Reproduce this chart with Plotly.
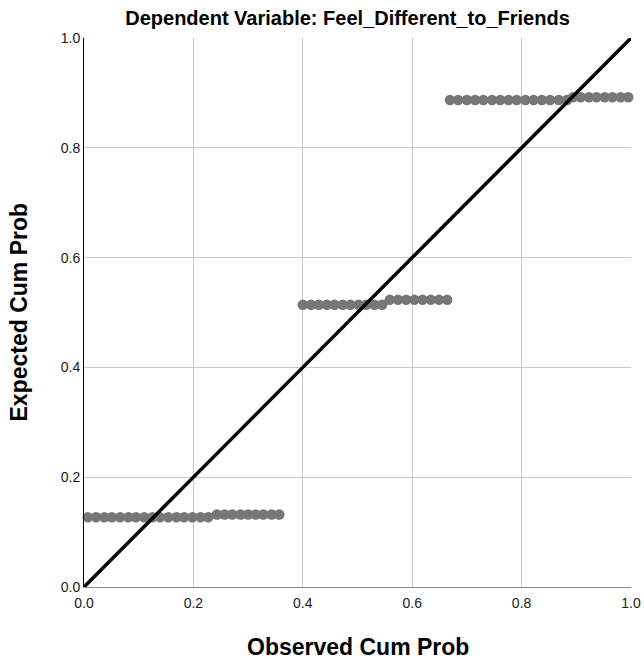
import plotly.graph_objects as go

# Observed cumulative probabilities (x) and expected cumulative probabilities (y)
obs_a = [0.007, 0.022, 0.037, 0.051, 0.066, 0.081, 0.095, 0.110, 0.125, 0.139, 0.154, 0.169, 0.183, 0.198, 0.213, 0.227]
exp_a = [0.127] * len(obs_a)
obs_b = [0.243, 0.257, 0.271, 0.286, 0.300, 0.314, 0.328, 0.343, 0.357]
exp_b = [0.132] * len(obs_b)
obs_c = [0.400, 0.415, 0.429, 0.444, 0.458, 0.473, 0.487, 0.502, 0.516, 0.531, 0.545]
exp_c = [0.514] * len(obs_c)
obs_d = [0.559, 0.574, 0.589, 0.604, 0.619, 0.634, 0.649, 0.664]
exp_d = [0.523] * len(obs_d)
obs_e = [0.669, 0.684, 0.700, 0.715, 0.730, 0.746, 0.761, 0.776, 0.791, 0.807, 0.822, 0.837, 0.852, 0.868, 0.883]
exp_e = [0.887] * len(obs_e)
obs_f = [0.894, 0.908, 0.923, 0.937, 0.952, 0.966, 0.981, 0.995]
exp_f = [0.892] * len(obs_f)

observed = obs_a + obs_b + obs_c + obs_d + obs_e + obs_f
expected = exp_a + exp_b + exp_c + exp_d + exp_e + exp_f

ref_x = [0.0, 1.0]
ref_y = [0.0, 1.0]
ticks = [0.0, 0.2, 0.4, 0.6, 0.8, 1.0]
tick_text = ["0.0", "0.2", "0.4", "0.6", "0.8", "1.0"]

W, H = 644, 659
L, R, T, B = 84, 13, 38, 72
plot_w = W - L - R
plot_h = H - T - B

fig = go.Figure()
fig.add_trace(go.Scatter(
    x=observed, y=expected, mode="markers",
    marker=dict(size=10.5, color="#777777", line=dict(width=0)),
    hoverinfo="x+y", showlegend=False, cliponaxis=False,
))
fig.add_trace(go.Scatter(
    x=ref_x, y=ref_y, mode="lines",
    line=dict(color="black", width=3.5),
    showlegend=False, cliponaxis=False,
))

font_family = "Liberation Sans, Arial, sans-serif"
fig.update_layout(
    width=W, height=H,
    margin=dict(l=L, r=R, t=T, b=B, autoexpand=False),
    paper_bgcolor="white", plot_bgcolor="white",
    font=dict(family=font_family, color="#000000", size=14),
    title=dict(text="<b>Dependent Variable: Feel_Different_to_Friends</b>",
               x=347.5 / W, xanchor="center", y=1 - 18 / H, yanchor="middle",
               font=dict(size=20, family=font_family, color="#000000")),
    xaxis=dict(range=[0, 1], tickvals=ticks, ticktext=tick_text,
               showgrid=True, gridcolor="#c8c8c8", gridwidth=1,
               zeroline=False, showline=True, linecolor="#888888", linewidth=1,
               ticks="", tickfont=dict(size=14, color="#1a1a1a"), automargin=False,
               ticklabelstandoff=3),
    yaxis=dict(range=[0, 1], tickvals=ticks, ticktext=tick_text,
               showgrid=True, gridcolor="#c8c8c8", gridwidth=1,
               zeroline=False, showline=True, linecolor="#000000", linewidth=1,
               ticks="", tickfont=dict(size=14, color="#1a1a1a"), automargin=False),
    annotations=[
        dict(text="<b>Observed Cum Prob</b>", xref="paper", yref="paper",
             x=0.5, y=(587 - 647) / plot_h, xanchor="center", yanchor="middle",
             showarrow=False, font=dict(size=23, family=font_family, color="#000000")),
        dict(text="<b>Expected Cum Prob</b>", xref="paper", yref="paper",
             x=(18 - L) / plot_w, y=0.5, xanchor="center", yanchor="middle",
             textangle=-90, showarrow=False,
             font=dict(size=23, family=font_family, color="#000000")),
    ],
)

fig.write_html("out.html")
